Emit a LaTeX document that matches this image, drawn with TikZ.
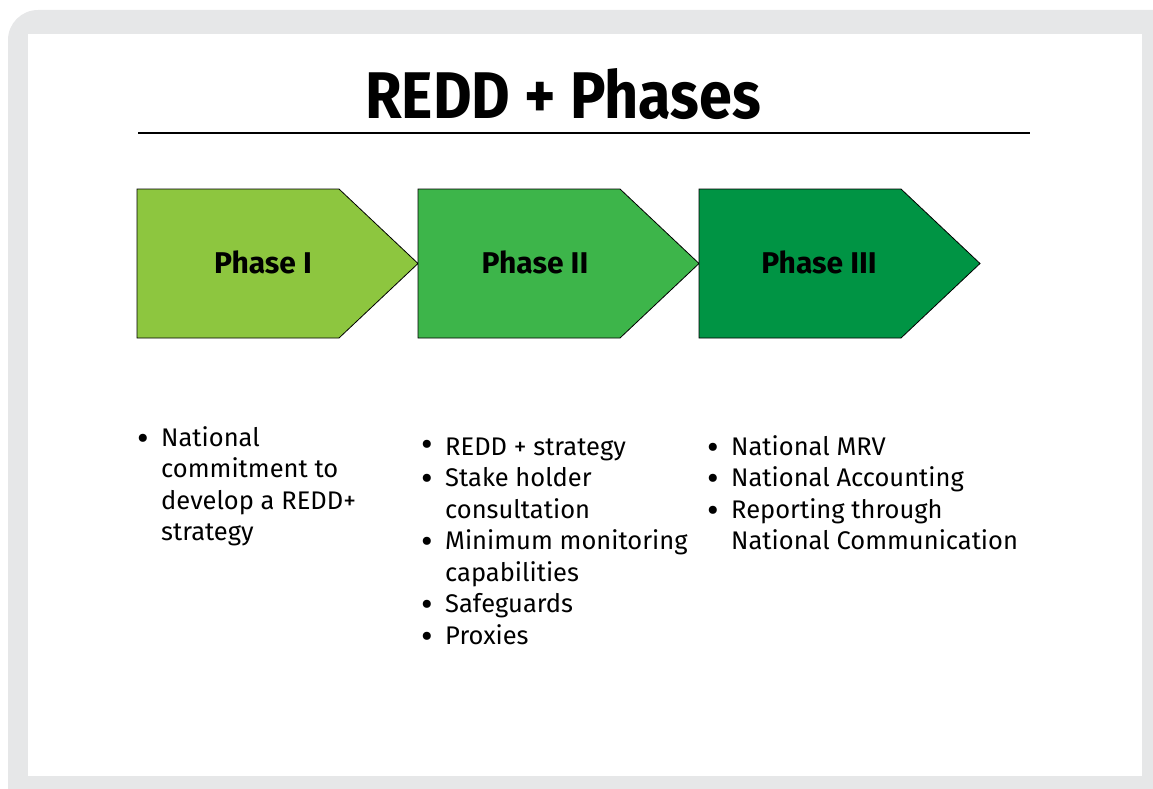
\documentclass[tikz,border=0pt]{standalone}
\usepackage{fontspec}
\setmainfont{Fira Sans}
\newfontfamily\titlefont[FakeStretch=0.9]{Fira Sans}
\usetikzlibrary{positioning}
\definecolor{framegray}{HTML}{E6E7E8}
\definecolor{phaseone}{HTML}{8DC63F}
\definecolor{phasetwo}{HTML}{3DB54A}
\definecolor{phasethree}{HTML}{009444}
\tikzset{every node/.append style={inner sep=0pt}}
\tikzset{phasebox/.style={draw=black, line width=0.8pt, line join=miter}}
\tikzset{phaselabel/.style={font=\bfseries\fontsize{30}{36}\selectfont, anchor=base}}
\tikzset{itemlist/.style={font=\fontsize{25.5}{31.5}\selectfont, align=left, anchor=base west}}
\newcommand{\bul}[1][-4pt]{\llap{\raisebox{#1}{\scalebox{1.4}{\textbullet}}\hspace{12pt}}}

\begin{document}
\begin{tikzpicture}[x=1pt,y=-1pt]
\useasboundingbox (0,0) rectangle (1153,789);
\begin{scope}
\clip (0,0) rectangle (1153,789);
\fill[framegray, rounded corners=30pt] (8,10) rectangle (1200,840);
\end{scope}
\fill[white] (28,34) rectangle (1142,776);
\node[font=\titlefont\bfseries\fontsize{66}{70}\selectfont, anchor=base] (title) at (563,118) {REDD + Phases};
\draw[line width=2.5pt] (138,133) -- (1030,133);
\pgfmathsetmacro{\BW}{202}
\pgfmathsetmacro{\TIP}{79}
\foreach \i/\col in {0/phaseone,1/phasetwo,2/phasethree}
  \filldraw[phasebox, fill=\col] ({137+281*\i},189) -- ++(\BW,0) -- ++(\TIP,74.5)
    -- ++(-\TIP,74.5) -- ++(-\BW,0) -- cycle;
\node[phaselabel] (one) at (263,273) {Phase I};
\node[phaselabel] (two) at (535,273) {Phase II};
\node[phaselabel] (three) at (819,273) {Phase III};
% anchor base = baseline of the last line
\node[itemlist] (listone) at (161,540.5) {\bul National\\ commitment to\\ develop a REDD+\\ strategy};
\node[itemlist] (listtwo) at (445,644) {\bul[-1pt]REDD + strategy\\ \bul Stake holder\\ consultation\\
  \bul Minimum monitoring\\ capabilities\\ \bul Safeguards\\ \bul Proxies};
\node[itemlist] (listthree) at (731,549.5) {\bul National MRV\\ \bul National Accounting\\
  \bul Reporting through\\ National Communication};
\end{tikzpicture}
\end{document}
